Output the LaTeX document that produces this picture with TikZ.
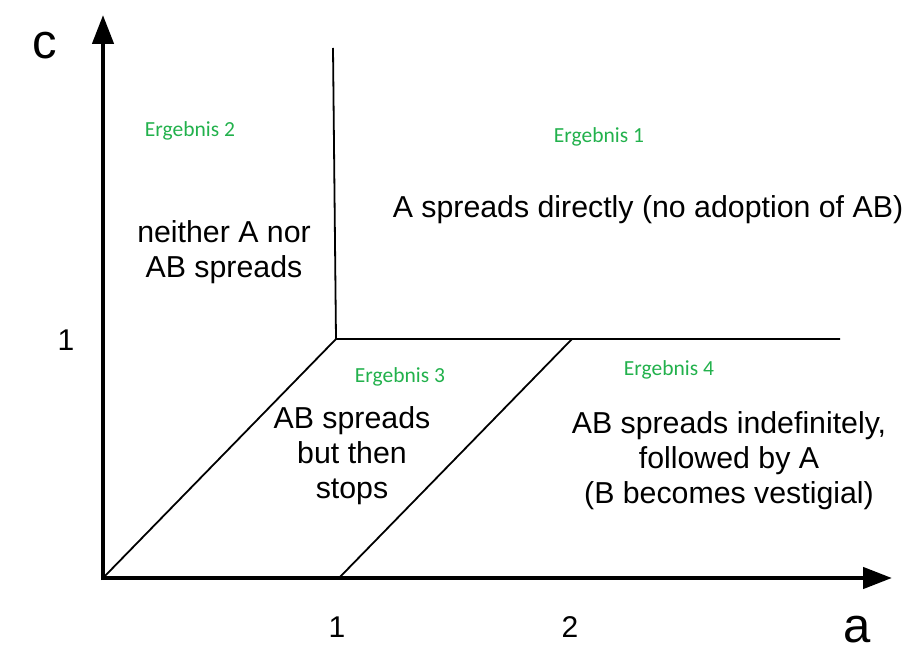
\documentclass[tikz,border=0pt]{standalone}
\usepackage{fontspec}
\setmainfont{Liberation Sans}
\newfontfamily\calfont{Carlito}
\usetikzlibrary{arrows.meta}
\definecolor{paintgreen}{RGB}{34,177,76}
\tikzset{
  axis/.style={line width=4.5pt, -{Triangle[length=29pt,width=21pt]}},
  border/.style={line width=1.8pt},
  region/.style={inner sep=0pt, align=center, font=\fontsize{30.3}{35}\selectfont},
  result/.style={inner sep=0pt, text=paintgreen, font=\calfont\fontsize{21.5}{25}\selectfont},
  ticklabel/.style={inner sep=0pt, font=\fontsize{30}{36}\selectfont},
  axislabel/.style={inner sep=0pt, font=\fontsize{49}{58}\selectfont}
}
\begin{document}
\begin{tikzpicture}[x=1pt,y=-1pt]
\useasboundingbox (0,0) rectangle (908,660);
% key points
\coordinate (O) at (103,578);
\coordinate (P) at (336,339);
\coordinate (Q) at (333,48);
\coordinate (R) at (840,339);
\coordinate (S) at (339,578);
\coordinate (T) at (572,339);
\coordinate (ytip) at (103,15);
\coordinate (xtip) at (892,578);
\coordinate (ybase) at (103,580);
\coordinate (xbase) at (101,578);
% region boundaries
\draw[border] (Q) -- (P) -- (R);
\draw[border] (O) -- (P);
\draw[border] (S) -- (T);
% axes
\draw[axis] (ybase) -- (ytip);
\draw[axis] (xbase) -- (xtip);
% axis labels
\node[axislabel] (c) at (45,46) {c};
\node[axislabel] (a) at (857,630) {a};
\node[ticklabel] (y1) at (66,340) {1};
\node[ticklabel] (x1) at (337,627) {1};
\node[ticklabel] (x2) at (570,627) {2};
% result labels
\node[result] (e2) at (190,131) {Ergebnis 2};
\node[result] (e1) at (599,137) {Ergebnis 1};
\node[result] (e3) at (400,377) {Ergebnis 3};
\node[result] (e4) at (669,370) {Ergebnis 4};
% region descriptions
\node[region] (r2) at (224,252) {neither A nor\\AB spreads};
\node[region] (r1) at (648,210) {A spreads directly (no adoption of AB)};
\node[region] (r3) at (352,456) {AB spreads\\but then\\stops};
\node[region] (r4) at (729,461) {AB spreads indefinitely,\\followed by A\\(B becomes vestigial)};
\end{tikzpicture}
\end{document}
